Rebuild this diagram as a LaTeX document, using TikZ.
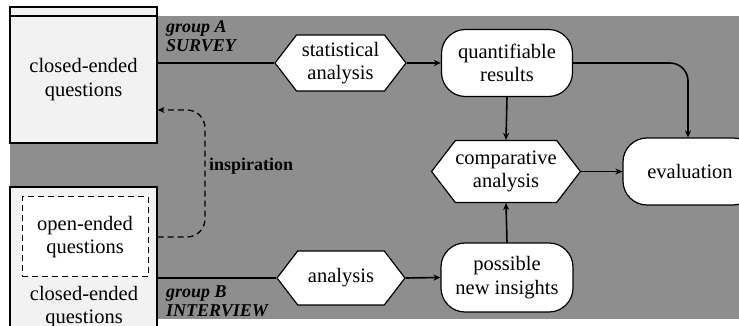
\documentclass[tikz,border=0pt]{standalone}
\usepackage{fontspec}
\setmainfont{Liberation Serif}
\usetikzlibrary{shapes.symbols,arrows.meta}
\definecolor{bggray}{RGB}{142,142,142}
\definecolor{boxgray}{RGB}{242,242,242}

\begin{document}
\begin{tikzpicture}[x=1pt,y=1pt]
\tikzstyle{every node}+=[inner sep=0pt]
\tikzstyle{txt}=[font=\fontsize{20.5}{23.5}\selectfont, align=center]
\tikzstyle{hexa}=[txt, draw=black, line width=1.2pt, fill=white, signal, signal to=west and east, signal pointer angle=105]
\tikzstyle{pill}=[txt, draw=black, line width=1.2pt, fill=white, rounded corners=24pt]
\tikzstyle{qbox}=[draw=black, line width=1.2pt, fill=boxgray]
\tikzstyle{grouplbl}=[font=\fontsize{18}{19}\selectfont\bfseries\itshape, align=left]
\tikzstyle{conn}=[line width=1.6pt, -{Stealth[length=7pt,width=6pt]}]
\useasboundingbox (0,0) rectangle (739,326);
\fill [bggray] (10,7) rectangle (739,310);
\filldraw [fill=boxgray, draw=black, line width=1.2pt] (10,310) rectangle (157,319);
% the two question boxes
\node [qbox, txt, minimum width=147pt, minimum height=127pt] (closedA) at (83.5,246.5) {closed-ended\\questions};
\node [qbox, minimum width=147pt, minimum height=143pt] (interview) at (83.5,67.5) {};
\node [txt, draw=black, dash pattern=on 6pt off 4pt, line width=1pt, fill=white, minimum width=126pt, minimum height=80pt] (open) at (85,89) {open-ended\\questions};
\node [txt] (closedB) at (84,19) {closed-ended\\questions};
\node [grouplbl, anchor=north west] (grpA) at (166,306) {group A\\SURVEY};
\node [grouplbl, anchor=north west] (grpB) at (166,40) {group B\\INTERVIEW};
\node [font=\fontsize{18}{19}\selectfont\bfseries, anchor=west] (insp) at (209,160) {inspiration};
% analysis steps
\node [hexa, minimum width=131pt, minimum height=56pt] (stat) at (340.5,263) {statistical\\analysis};
\node [pill, minimum width=131pt, minimum height=67pt] (quant) at (507,263) {quantifiable\\results};
\node [hexa, minimum width=145pt, minimum height=62pt] (comp) at (506,154.5) {comparative\\analysis};
\node [pill, minimum width=134pt, minimum height=67pt] (eval) at (690,154.5) {evaluation};
\node [pill, minimum width=132pt, minimum height=69pt] (poss) at (507,48.5) {possible\\new insights};
\node [hexa, minimum width=128pt, minimum height=54pt] (ana) at (341,48) {analysis};
\coordinate (bend) at (205,160);
% connectors
\draw [line width=1.6pt] (stat.west -| closedA.east) -- (stat.west);
\draw [line width=1.6pt] (ana.west -| interview.east) -- (ana.west);
\draw [conn] (stat.east) -- (quant.west);
\draw [conn] (ana.east) -- (poss.west);
\draw [conn] (quant.south) -- (comp.north);
\draw [conn] (poss.north) -- (comp.south);
\draw [conn] (comp.east) -- (eval.west);
\draw [conn, rounded corners=18pt] (quant.east) -| ([xshift=-2pt]eval.north);
\draw [conn, dash pattern=on 6pt off 4pt, line width=1.3pt, rounded corners=18pt] (open.east -| interview.east) -| (bend) |- ([yshift=-30.5pt]closedA.east);
\end{tikzpicture}
\end{document}
